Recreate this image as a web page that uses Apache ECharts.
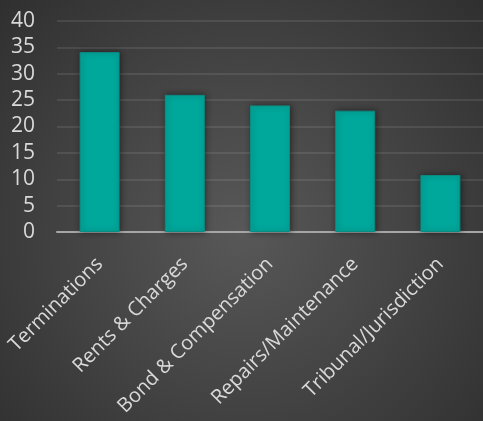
<!DOCTYPE html>
<html>
<head>
<meta charset="utf-8">
<script src="https://cdn.jsdelivr.net/npm/echarts@6/dist/echarts.min.js"></script>
<style>
html,body{margin:0;padding:0;background:#3a3a3a;}
#c{width:483px;height:421px;}
</style>
</head>
<body>
<div id="c"></div>
<script>
var categories = ['Terminations', 'Rents & Charges', 'Bond & Compensation', 'Repairs/Maintenance', 'Tribunal/Jurisdiction'];
var values = [34.1, 26, 24, 23, 10.8];
var yTicks = { min: 0, max: 40, interval: 5 };

var chart = echarts.init(document.getElementById('c'), null, { renderer: 'canvas' });
chart.setOption({
  animation: false,
  backgroundColor: {
    type: 'radial', x: 0.5, y: 0.55, r: 0.8,
    colorStops: [
      { offset: 0, color: '#585858' },
      { offset: 1, color: '#2f2f2f' }
    ]
  },
  textStyle: { fontFamily: '"Open Sans", sans-serif' },
  grid: { left: 57, right: -2, top: 21, bottom: 189, containLabel: false },
  xAxis: {
    type: 'category',
    data: categories,
    boundaryGap: true,
    axisTick: { show: false },
    axisLine: { lineStyle: { color: '#a6a6a6', width: 2 } },
    axisLabel: {
      rotate: 45,
      interval: 0,
      margin: 29,
      color: '#d9d9d9',
      fontSize: 20,
      fontFamily: '"Open Sans", sans-serif'
    }
  },
  yAxis: {
    type: 'value',
    min: yTicks.min,
    max: yTicks.max,
    interval: yTicks.interval,
    axisLine: { show: false },
    axisTick: { show: false },
    splitLine: { lineStyle: { color: 'rgba(255,255,255,0.09)', width: 2 } },
    axisLabel: {
      margin: 22,
      color: '#d9d9d9',
      fontSize: 21,
      fontFamily: '"Open Sans", sans-serif'
    }
  },
  series: [{
    type: 'bar',
    data: values,
    barWidth: 40,
    itemStyle: {
      color: '#00a89c',
      borderColor: '#0b8c83',
      borderWidth: 1,
      shadowBlur: 6,
      shadowColor: 'rgba(0,0,0,0.45)',
      shadowOffsetX: 1,
      shadowOffsetY: 0
    }
  }]
});
</script>
</body>
</html>
